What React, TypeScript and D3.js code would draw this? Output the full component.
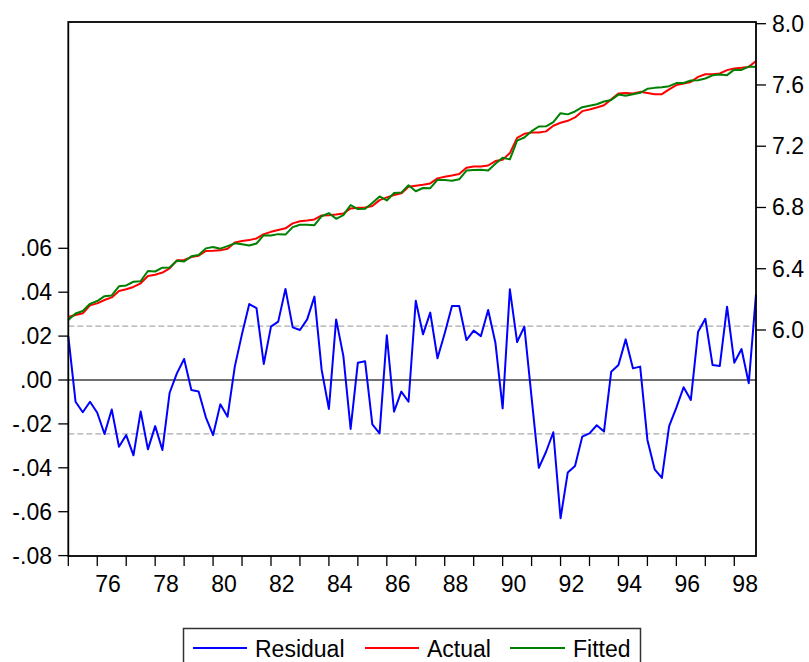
import React from "react";
import * as d3 from "d3";

// Quarterly observations 1975Q1 .. 1998Q4
const startYear = 1975;
const actual = [
  6.085, 6.098, 6.109, 6.161, 6.174, 6.196, 6.213, 6.255, 6.266, 6.281, 6.305, 6.353,
  6.361, 6.375, 6.402, 6.455, 6.457, 6.476, 6.485, 6.516, 6.517, 6.520, 6.531, 6.572,
  6.581, 6.587, 6.598, 6.626, 6.641, 6.653, 6.664, 6.696, 6.710, 6.715, 6.722, 6.748,
  6.750, 6.754, 6.761, 6.794, 6.798, 6.800, 6.809, 6.848, 6.866, 6.881, 6.892, 6.935,
  6.942, 6.948, 6.957, 6.990, 7.000, 7.009, 7.018, 7.059, 7.067, 7.067, 7.074, 7.103,
  7.112, 7.155, 7.254, 7.281, 7.290, 7.289, 7.297, 7.334, 7.353, 7.366, 7.388, 7.429,
  7.440, 7.453, 7.468, 7.506, 7.544, 7.548, 7.544, 7.555, 7.548, 7.540, 7.540, 7.571,
  7.599, 7.610, 7.620, 7.653, 7.670, 7.670, 7.675, 7.697, 7.708, 7.712, 7.718, 7.757,
];
const fitted = [
  6.065, 6.108, 6.124, 6.171, 6.189, 6.221, 6.226, 6.285, 6.291, 6.315, 6.319, 6.385,
  6.382, 6.407, 6.408, 6.452, 6.447, 6.481, 6.490, 6.533, 6.542, 6.531, 6.548, 6.566,
  6.560, 6.552, 6.565, 6.619, 6.617, 6.626, 6.623, 6.672, 6.687, 6.687, 6.684, 6.743,
  6.763, 6.726, 6.750, 6.816, 6.790, 6.792, 6.829, 6.872, 6.846, 6.895, 6.897, 6.945,
  6.906, 6.927, 6.926, 6.980, 6.979, 6.975, 6.984, 7.041, 7.045, 7.047, 7.042, 7.086,
  7.125, 7.114, 7.237, 7.257, 7.298, 7.329, 7.330, 7.358, 7.416, 7.408, 7.427, 7.455,
  7.464, 7.474, 7.492, 7.502, 7.537, 7.530, 7.539, 7.549, 7.575, 7.581, 7.585, 7.592,
  7.612, 7.613, 7.629, 7.631, 7.642, 7.663, 7.669, 7.664, 7.700, 7.698, 7.720, 7.718,
];
const residual = [
  0.0200, -0.0099, -0.0147, -0.0099, -0.0149, -0.0246, -0.0134, -0.0304, -0.0251, -0.0343, -0.0143, -0.0316,
  -0.0210, -0.0319, -0.0058, 0.0030, 0.0096, -0.0046, -0.0052, -0.0170, -0.0251, -0.0111, -0.0167, 0.0061,
  0.0210, 0.0346, 0.0327, 0.0073, 0.0243, 0.0266, 0.0415, 0.0240, 0.0228, 0.0276, 0.0380, 0.0046,
  -0.0132, 0.0276, 0.0109, -0.0223, 0.0079, 0.0085, -0.0202, -0.0243, 0.0204, -0.0144, -0.0053, -0.0099,
  0.0361, 0.0208, 0.0307, 0.0099, 0.0213, 0.0337, 0.0337, 0.0182, 0.0225, 0.0200, 0.0319, 0.0170,
  -0.0129, 0.0413, 0.0173, 0.0243, -0.0080, -0.0400, -0.0327, -0.0238, -0.0630, -0.0421, -0.0392, -0.0258,
  -0.0243, -0.0206, -0.0235, 0.0038, 0.0068, 0.0185, 0.0053, 0.0061, -0.0273, -0.0407, -0.0446, -0.0210,
  -0.0126, -0.0033, -0.0091, 0.0220, 0.0279, 0.0068, 0.0064, 0.0334, 0.0079, 0.0141, -0.0015, 0.0390,
];
const seBand = 0.0245;
const leftTicks = [-0.08, -0.06, -0.04, -0.02, 0.0, 0.02, 0.04, 0.06];
const leftTickLabels = ["-.08", "-.06", "-.04", "-.02", ".00", ".02", ".04", ".06"];
const rightTicks = [6.0, 6.4, 6.8, 7.2, 7.6, 8.0];
const rightTickLabels = ["6.0", "6.4", "6.8", "7.2", "7.6", "8.0"];
const yearLabels = ["76", "78", "80", "82", "84", "86", "88", "90", "92", "94", "96", "98"];
const seriesNames = ["Residual", "Actual", "Fitted"];
const seriesColors = ["#0000ff", "#ff0000", "#008000"];

const W = 809;
const H = 662;
const L = 68.3;
const R = 756;
const T = 22;
const B = 556;
const FONT = "'Liberation Sans', Arial, Helvetica, sans-serif";
const FS = 23;

export default function App() {
  const n = actual.length;
  const x = d3.scaleLinear().domain([0, n - 1]).range([L, R]);
  const yL = d3.scaleLinear().domain([-0.08, 0.06]).range([555.6, 248.3]);
  const yR = d3.scaleLinear().domain([6.0, 8.0]).range([330, 23.7]);

  const lineL = d3.line<number>().x((_, i) => x(i)).y((d) => yL(d));
  const lineR = d3.line<number>().x((_, i) => x(i)).y((d) => yR(d));

  const yearTickIdx = d3.range(0, n, 4);

  const legendItems = [
    { name: seriesNames[0], color: seriesColors[0], x0: 193, x1: 247, tx: 255 },
    { name: seriesNames[1], color: seriesColors[1], x0: 365, x1: 419, tx: 427 },
    { name: seriesNames[2], color: seriesColors[2], x0: 510, x1: 565, tx: 573 },
  ];

  return (
    <svg
      width={W}
      height={H}
      style={{ position: "absolute", left: 0, top: 0, background: "#fff" }}
      fontFamily={FONT}
    >
      <rect x={0} y={0} width={W} height={H} fill="#fff" />
      {/* dashed SE bands */}
      {[seBand, -seBand].map((v, i) => (
        <line key={i} x1={L} x2={R} y1={yL(v)} y2={yL(v)} stroke="#aaaaaa" strokeWidth={1.3} strokeDasharray="6,3" />
      ))}
      {/* zero line */}
      <line x1={L} x2={R} y1={yL(0)} y2={yL(0)} stroke="#404040" strokeWidth={1.5} />
      {/* series */}
      <path d={lineR(actual) || ""} fill="none" stroke={seriesColors[1]} strokeWidth={2} strokeLinejoin="round" />
      <path d={lineR(fitted) || ""} fill="none" stroke={seriesColors[2]} strokeWidth={2} strokeLinejoin="round" />
      <path d={lineL(residual) || ""} fill="none" stroke={seriesColors[0]} strokeWidth={2} strokeLinejoin="round" />
      {/* frame */}
      <rect x={L} y={T} width={R - L} height={B - T} fill="none" stroke="#000" strokeWidth={1.8} />
      {/* left axis */}
      {leftTicks.map((v, i) => (
        <g key={i}>
          <line x1={L - 10} x2={L} y1={yL(v)} y2={yL(v)} stroke="#000" strokeWidth={1.3} />
          <text x={52} y={yL(v) + 8} textAnchor="end" fontSize={FS} fill="#000">
            {leftTickLabels[i]}
          </text>
        </g>
      ))}
      {/* right axis */}
      {rightTicks.map((v, i) => (
        <g key={i}>
          <line x1={R} x2={R + 10} y1={yR(v)} y2={yR(v)} stroke="#000" strokeWidth={1.3} />
          <text x={772} y={yR(v) + 8} textAnchor="start" fontSize={FS} fill="#000">
            {rightTickLabels[i]}
          </text>
        </g>
      ))}
      {/* x axis ticks */}
      {yearTickIdx.map((idx) => (
        <line key={idx} x1={x(idx)} x2={x(idx)} y1={B} y2={B + 10} stroke="#000" strokeWidth={1.3} />
      ))}
      {yearLabels.map((lab, k) => (
        <text key={lab} x={x(4 + 8 * k + 1.5)} y={592} textAnchor="middle" fontSize={FS} fill="#000">
          {lab}
        </text>
      ))}
      {/* legend */}
      <rect x={183.5} y={628.5} width={457} height={42} fill="#fff" stroke="#333" strokeWidth={1.5} />
      {legendItems.map((it) => (
        <g key={it.name}>
          <line x1={it.x0} x2={it.x1} y1={648} y2={648} stroke={it.color} strokeWidth={2} />
          <text x={it.tx} y={657} fontSize={FS} fill="#000">
            {it.name}
          </text>
        </g>
      ))}
    </svg>
  );
}
